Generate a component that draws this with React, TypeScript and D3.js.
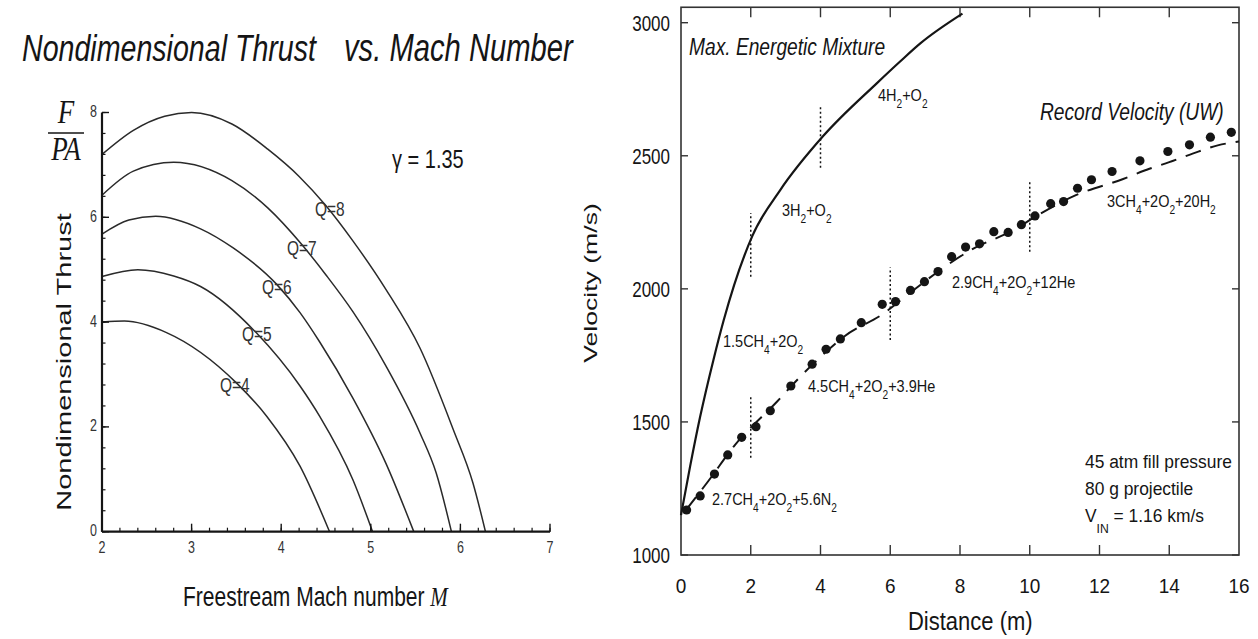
import React from "react";
import * as d3 from "d3";

const SANS = "'Liberation Sans', Arial, Helvetica, sans-serif";
const SERIF = "'Liberation Serif', 'Times New Roman', serif";
const INK = "#151515";

// ---- left chart: F/PA vs Mach number, one curve per heat release Q ----
const thrustQ8 = [[2.0, 7.2], [2.35, 7.66], [2.7, 7.93], [3.0, 8.0], [3.45, 7.78], [3.85, 7.3], [4.2, 6.78], [4.5, 6.22], [4.8, 5.55], [5.17, 4.62], [5.55, 3.5], [5.92, 1.95], [6.14, 0.93], [6.28, 0]];
const thrustQ7 = [[2.0, 6.42], [2.35, 6.88], [2.8, 7.05], [3.45, 6.7], [3.85, 6.18], [4.23, 5.48], [4.5, 4.9], [4.8, 4.2], [5.17, 3.16], [5.55, 1.88], [5.73, 1.12], [5.9, 0]];
const thrustQ6 = [[2.0, 5.68], [2.3, 5.95], [2.6, 6.02], [3.1, 5.78], [3.46, 5.42], [3.95, 4.72], [4.21, 4.18], [4.43, 3.62], [4.8, 2.55], [5.17, 1.3], [5.48, 0]];
const thrustQ5 = [[2.0, 4.87], [2.4, 5.0], [2.8, 4.88], [3.1, 4.68], [3.72, 3.8], [4.21, 2.78], [4.43, 2.2], [4.8, 0.99], [5.02, 0]];
const thrustQ4 = [[2.0, 4.0], [2.25, 4.02], [2.72, 3.8], [3.5, 2.84], [3.84, 2.2], [4.21, 1.25], [4.54, 0]];
const thrustCurves = [thrustQ8, thrustQ7, thrustQ6, thrustQ5, thrustQ4];
const qLabels = ["Q=8", "Q=7", "Q=6", "Q=5", "Q=4"];
const machTicks = [2, 3, 4, 5, 6, 7];
const thrustTicks = [0, 2, 4, 6, 8];

// ---- right chart: velocity vs distance ----
const maxMixDist = [0, 0.26, 0.55, 0.93, 1.22, 2.05, 2.85, 4.07, 5.62, 6.29, 6.87, 8.07];
const maxMixVel = [1150, 1332, 1520, 1733, 1880, 2200, 2372, 2573, 2773, 2855, 2923, 3034];
const theoryDist = [0.15, 0.79, 1.55, 2.75, 3.42, 3.99, 4.68, 5.86, 6.37, 8.37, 9.55, 10.17, 11.29, 12.66, 13.43, 14.0, 14.67, 15.39, 16];
const theoryVel = [1170, 1279, 1414, 1576, 1670, 1743, 1821, 1912, 1965, 2150, 2222, 2272, 2350, 2412, 2451, 2476, 2508, 2539, 2554];
const recordDist = [0.16, 0.55, 0.96, 1.34, 1.74, 2.15, 2.56, 3.15, 3.76, 4.16, 4.57, 5.17, 5.77, 6.15, 6.58, 6.98, 7.37, 7.76, 8.16, 8.56, 8.97, 9.38, 9.76, 10.15, 10.6, 10.97, 11.37, 11.77, 12.36, 13.16, 13.96, 14.58, 15.18, 15.78];
const recordVel = [1169, 1222, 1304, 1376, 1442, 1482, 1542, 1635, 1717, 1773, 1812, 1873, 1942, 1952, 1994, 2027, 2065, 2121, 2157, 2169, 2215, 2212, 2241, 2274, 2320, 2328, 2378, 2410, 2441, 2481, 2516, 2541, 2570, 2588];
const markerDist = [2, 4, 2, 6, 10];
const markerLow = [2045, 2455, 1365, 1808, 2139];
const markerHigh = [2285, 2690, 1594, 2080, 2410];
const distTicks = [0, 2, 4, 6, 8, 10, 12, 14, 16];
const velTicks = [1000, 1500, 2000, 2500, 3000];

type TxtProps = {
  x: number; y: number; size: number; sx?: number; sy?: number; rot?: number;
  anchor?: string; italic?: boolean; family?: string; fill?: string; children?: any;
};

function Txt({ x, y, size, sx = 1, sy = 1, rot = 0, anchor = "start", italic = false, family = SANS, fill = INK, children }: TxtProps) {
  return (
    <text
      transform={`translate(${x},${y}) rotate(${rot}) scale(${sx},${sy})`}
      fontSize={size}
      textAnchor={anchor}
      fontStyle={italic ? "italic" : "normal"}
      fontFamily={family}
      fill={fill}
    >
      {children}
    </text>
  );
}

// "2.7CH_4+2O_2" -> text with lowered subscripts
function Formula({ text, x, y, size = 14.5, sy = 1.2, drop = 6 }: { text: string; x: number; y: number; size?: number; sy?: number; drop?: number }) {
  const parts = text.split(/(_\{[^}]*\}|_.)/).filter(Boolean);
  let low = false;
  return (
    <Txt x={x} y={y} size={size} sy={sy}>
      {parts.map((p, i) => {
        if (p.startsWith("_")) {
          const s = p.replace(/^_\{?/, "").replace(/\}$/, "");
          const dy = low ? 0 : drop;
          low = true;
          return <tspan key={i} fontSize={size * 0.7} dy={dy}>{s}</tspan>;
        }
        const dy = low ? -drop : 0;
        low = false;
        return <tspan key={i} dy={dy}>{p}</tspan>;
      })}
    </Txt>
  );
}

export default function App() {
  // left chart scales
  const xL = d3.scaleLinear().domain([2, 7]).range([102, 550]);
  const yL = d3.scaleLinear().domain([0, 8]).range([531.7, 112.5]);
  const lineL = d3.line<number[]>().x((d) => xL(d[0])).y((d) => yL(d[1])).curve(d3.curveMonotoneX);
  const machMinor = d3.range(2, 7.001, 0.2);
  const thrustMinor = d3.range(0, 8.001, 0.4);

  // right chart scales
  const xR = d3.scaleLinear().domain([0, 16]).range([681, 1239]);
  const yR = d3.scaleLinear().domain([1000, 3000]).range([555, 22.7]);
  const lineR = d3.line<number>().curve(d3.curveMonotoneX);
  const maxMixPath = lineR.x((_, i) => xR(maxMixDist[i])).y((_, i) => yR(maxMixVel[i]))(maxMixDist);
  const theoryPath = lineR.x((_, i) => xR(theoryDist[i])).y((_, i) => yR(theoryVel[i]))(theoryDist);
  const frameTop = yR(3058);

  const qPos = [[315, 216], [287, 255], [262, 294], [242, 341], [220, 392]];

  return (
    <svg width={1258} height={639} style={{ position: "absolute", left: 0, top: 0, background: "#fff" }}>
      {/* ================= left chart ================= */}
      <Txt x={22} y={61} size={28.6} sy={1.3} italic>Nondimensional Thrust</Txt>
      <Txt x={344} y={61} size={29.2} sy={1.3} italic>vs. Mach Number</Txt>

      {/* F / PA */}
      <Txt x={66} y={123} size={27} sy={1.25} anchor="middle" italic family={SERIF}>F</Txt>
      <line x1={48} x2={84} y1={133} y2={133} stroke={INK} strokeWidth={1.6} />
      <Txt x={66} y={160} size={27} sy={1.25} anchor="middle" italic family={SERIF}>PA</Txt>

      <Txt x={71} y={362} size={21} sx={1.38} rot={-90} anchor="middle">Nondimensional Thrust</Txt>

      {thrustCurves.map((c, i) => (
        <path key={i} d={lineL(c) || ""} fill="none" stroke="#2a2a2a" strokeWidth={1.5} />
      ))}
      {qLabels.map((q, i) => (
        <Txt key={q} x={qPos[i][0]} y={qPos[i][1]} size={15.5} sy={1.3} fill="#333">{q}</Txt>
      ))}
      <Txt x={392} y={168} size={20} sy={1.3}>γ = 1.35</Txt>

      {/* axes */}
      <line x1={xL(2)} x2={xL(2)} y1={yL(0)} y2={yL(8)} stroke={INK} strokeWidth={2.2} />
      <line x1={xL(2)} x2={xL(7)} y1={yL(0)} y2={yL(0)} stroke={INK} strokeWidth={2.2} />
      {thrustMinor.map((t) => (
        <line key={"ym" + t} x1={xL(2)} x2={xL(2) + 3.5} y1={yL(t)} y2={yL(t)} stroke={INK} strokeWidth={1.2} />
      ))}
      {thrustTicks.map((t) => (
        <g key={"y" + t}>
          <line x1={xL(2)} x2={xL(2) + 7} y1={yL(t)} y2={yL(t)} stroke={INK} strokeWidth={1.4} />
          <Txt x={97} y={yL(t) + 4.5} size={12.5} sy={1.3} anchor="end" fill="#333">{t}</Txt>
        </g>
      ))}
      {machMinor.map((t) => (
        <line key={"xm" + t} x1={xL(t)} x2={xL(t)} y1={yL(0)} y2={yL(0) - 4} stroke={INK} strokeWidth={1.2} />
      ))}
      {machTicks.map((t) => (
        <g key={"x" + t}>
          <line x1={xL(t)} x2={xL(t)} y1={yL(0)} y2={yL(0) - 8} stroke={INK} strokeWidth={1.4} />
          <Txt x={xL(t)} y={553} size={12.5} sy={1.3} anchor="middle" fill="#333">{t}</Txt>
        </g>
      ))}
      <Txt x={183} y={606} size={21} sy={1.3}>
        Freestream Mach number <tspan fontFamily={SERIF} fontStyle="italic">M</tspan>
      </Txt>

      {/* ================= right chart ================= */}
      <rect x={xR(0)} y={frameTop} width={xR(16) - xR(0)} height={yR(1000) - frameTop} fill="none" stroke="#333" strokeWidth={1.6} />
      {velTicks.map((v) => (
        <g key={"v" + v}>
          <line x1={xR(0)} x2={xR(0) + 7} y1={yR(v)} y2={yR(v)} stroke="#333" strokeWidth={1.4} />
          <line x1={xR(16)} x2={xR(16) - 7} y1={yR(v)} y2={yR(v)} stroke="#333" strokeWidth={1.4} />
          <Txt x={670} y={yR(v) + 8} size={17} sy={1.35} anchor="end">{v}</Txt>
        </g>
      ))}
      {distTicks.map((d) => (
        <g key={"d" + d}>
          {d > 0 && d < 16 && (
            <>
              <line x1={xR(d)} x2={xR(d)} y1={yR(1000)} y2={yR(1000) - 10} stroke="#333" strokeWidth={1.4} />
              <line x1={xR(d)} x2={xR(d)} y1={frameTop} y2={frameTop + 10} stroke="#333" strokeWidth={1.4} />
            </>
          )}
          <Txt x={xR(d)} y={593} size={19} sy={1.1} anchor="middle">{d}</Txt>
        </g>
      ))}
      <Txt x={908} y={630} size={22} sy={1.15}>Distance (m)</Txt>
      <Txt x={597} y={283} size={19} sx={1.4} rot={-90} anchor="middle">Velocity  (m/s)</Txt>

      {/* dotted mixture boundaries */}
      {markerDist.map((d, i) => (
        <line key={"mk" + i} x1={xR(d)} x2={xR(d)} y1={yR(markerLow[i])} y2={yR(markerHigh[i])} stroke={INK} strokeWidth={1.5} strokeDasharray="2 2.5" />
      ))}

      <path d={maxMixPath || ""} fill="none" stroke={INK} strokeWidth={2.2} />
      <path d={theoryPath || ""} fill="none" stroke={INK} strokeWidth={2} strokeDasharray="16 10" />
      {recordDist.map((d, i) => (
        <circle key={"r" + i} cx={xR(d)} cy={yR(recordVel[i])} r={4.6} fill={INK} />
      ))}

      <Txt x={689} y={55} size={19.2} sy={1.24} italic>Max. Energetic Mixture</Txt>
      <Txt x={1040} y={120} size={19.2} sy={1.24} italic>Record Velocity (UW)</Txt>

      <Formula text="4H_2+O_2" x={878} y={101} />
      <Formula text="3H_2+O_2" x={782} y={216} />
      <Formula text="1.5CH_4+2O_2" x={723} y={347} />
      <Formula text="4.5CH_4+2O_2+3.9He" x={808} y={392} />
      <Formula text="2.7CH_4+2O_2+5.6N_2" x={712} y={505} />
      <Formula text="2.9CH_4+2O_2+12He" x={952} y={288} />
      <Formula text="3CH_4+2O_2+20H_2" x={1107} y={207} />

      <Txt x={1085} y={468} size={17.4} sy={1.05}>45 atm fill pressure</Txt>
      <Txt x={1085} y={495} size={17.4} sy={1.05}>80 g projectile</Txt>
      <Formula text="V_{IN} = 1.16 km/s" x={1085} y={522} size={17.4} sy={1.05} drop={10} />
    </svg>
  );
}
